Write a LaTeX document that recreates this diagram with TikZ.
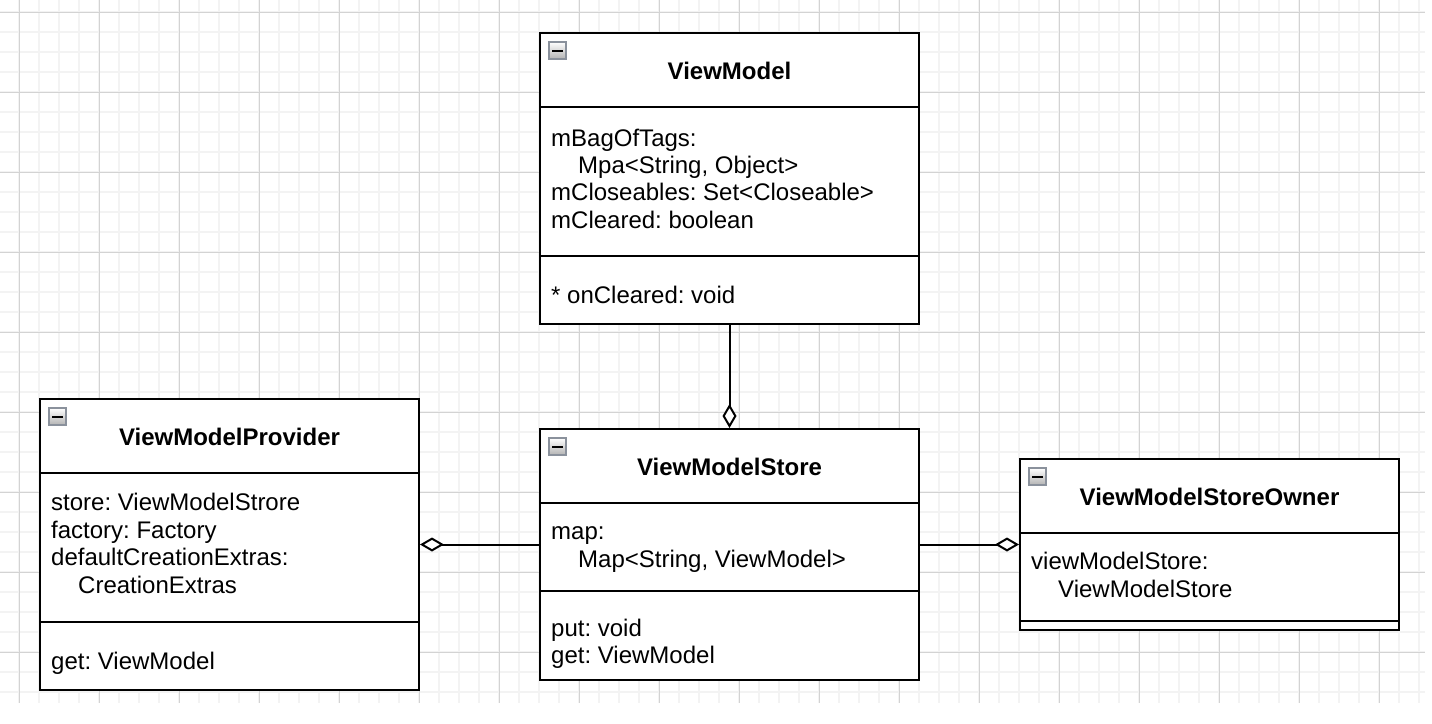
\documentclass[tikz,border=0pt]{standalone}
\usepackage{fontspec}
\setmainfont{Liberation Sans}
\usetikzlibrary{calc}
\usetikzlibrary{arrows.meta}

\definecolor{gridminor}{HTML}{F3F3F3}
\definecolor{gridmajor}{HTML}{D3D3D3}
\definecolor{foldedge}{HTML}{8A919C}

\frenchspacing

\begin{document}
\begin{tikzpicture}[x=1pt,y=-1pt,
    classbox/.style={draw,line width=2pt,fill=white,minimum width=379pt,inner sep=0pt},
    sepline/.style={line width=2pt},
    title/.style={font=\bfseries\fontsize{24}{27}\selectfont,anchor=base,inner sep=0pt},
    member/.style={font=\fontsize{24}{27}\selectfont,anchor=base west,inner sep=0pt},
    fold/.style={draw=foldedge,line width=1.5pt,top color=white,bottom color=gray!60,minimum size=17pt,inner sep=0pt},
    aggr/.style={line width=2pt,-{Diamond[fill=white,length=24pt,width=14pt]}}]
                \useasboundingbox (0,0) rectangle (1432,723);

                % grid
                \begin{scope}
                    \clip (0,0) rectangle (1425,703);
                    \foreach \i in {0,...,70}
                        \draw[gridminor,line width=1.5pt] (19+20*\i,0) -- (19+20*\i,703);
                    \foreach \j in {0,...,34}
                        \draw[gridminor,line width=1.5pt] (0,12+20*\j) -- (1425,12+20*\j);
                    \foreach \i in {0,...,17}
                        \draw[gridmajor,line width=1pt] (19+80*\i,0) -- (19+80*\i,703);
                    \foreach \j in {0,...,8}
                        \draw[gridmajor,line width=1pt] (0,12+80*\j) -- (1425,12+80*\j);
                \end{scope}

                % ViewModel
                \node[classbox,minimum height=291pt] (vm) at (729.5,178.5) {};
                \draw[sepline] ($(vm.north west)+(1,75)$) -- ($(vm.north east)+(-1,75)$);
                \draw[sepline] ($(vm.north west)+(1,224)$) -- ($(vm.north east)+(-1,224)$);
                \node[fold] (vmf) at ($(vm.north west)+(18.5,18.5)$) {\rule{11pt}{2pt}};
                \node[title] (vmt) at ($(vm.north)+(0,47)$) {ViewModel};
                \node[member] (vma1) at ($(vm.north west)+(12,114)$) {mBagOfTags:};
                \node[member] (vma2) at ($(vm.north west)+(39,141.4)$) {Mpa<String, Object>};
                \node[member] (vma3) at ($(vm.north west)+(12,168.8)$) {mCloseables: Set<Closeable>};
                \node[member] (vma4) at ($(vm.north west)+(12,196.2)$) {mCleared: boolean};
                \node[member] (vmm1) at ($(vm.north west)+(12,271)$) {* onCleared: void};

                % ViewModelProvider
                \node[classbox,minimum height=291pt] (pv) at (229.5,544.5) {};
                \draw[sepline] ($(pv.north west)+(1,75)$) -- ($(pv.north east)+(-1,75)$);
                \draw[sepline] ($(pv.north west)+(1,224)$) -- ($(pv.north east)+(-1,224)$);
                \node[fold] (pvf) at ($(pv.north west)+(18.5,18.5)$) {\rule{11pt}{2pt}};
                \node[title] (pvt) at ($(pv.north)+(0,47)$) {ViewModelProvider};
                \node[member] (pva1) at ($(pv.north west)+(12,112.5)$) {store: ViewModelStrore};
                \node[member] (pva2) at ($(pv.north west)+(12,140)$) {factory: Factory};
                \node[member] (pva3) at ($(pv.north west)+(12,167.5)$) {defaultCreationExtras:};
                \node[member] (pva4) at ($(pv.north west)+(39,195)$) {CreationExtras};
                \node[member] (pvm1) at ($(pv.north west)+(12,271)$) {get: ViewModel};

                % ViewModelStore
                \node[classbox,minimum height=251pt] (st) at (729.5,554.5) {};
                \draw[sepline] ($(st.north west)+(1,75)$) -- ($(st.north east)+(-1,75)$);
                \draw[sepline] ($(st.north west)+(1,163)$) -- ($(st.north east)+(-1,163)$);
                \node[fold] (stf) at ($(st.north west)+(18.5,18.5)$) {\rule{11pt}{2pt}};
                \node[title] (stt) at ($(st.north)+(0,47)$) {ViewModelStore};
                \node[member] (sta1) at ($(st.north west)+(12,111.5)$) {map:};
                \node[member] (sta2) at ($(st.north west)+(39,139)$) {Map<String, ViewModel>};
                \node[member] (stm1) at ($(st.north west)+(12,208)$) {put: void};
                \node[member] (stm2) at ($(st.north west)+(12,235.5)$) {get: ViewModel};

                % ViewModelStoreOwner
                \node[classbox,minimum height=171pt] (ow) at (1209.5,544.5) {};
                \draw[sepline] ($(ow.north west)+(1,75)$) -- ($(ow.north east)+(-1,75)$);
                \draw[sepline] ($(ow.north west)+(1,163)$) -- ($(ow.north east)+(-1,163)$);
                \node[fold] (owf) at ($(ow.north west)+(18.5,18.5)$) {\rule{11pt}{2pt}};
                \node[title] (owt) at ($(ow.north)+(0,47)$) {ViewModelStoreOwner};
                \node[member] (owa1) at ($(ow.north west)+(12,111.5)$) {viewModelStore:};
                \node[member] (owa2) at ($(ow.north west)+(39,139)$) {ViewModelStore};

                % aggregations
                \draw[aggr] (vm.south) -- (st.north);
                \draw[aggr] (st.west |- pv.east) -- (pv.east);
                \draw[aggr] (st.east |- ow.west) -- (ow.west);
            \end{tikzpicture}
\end{document}
